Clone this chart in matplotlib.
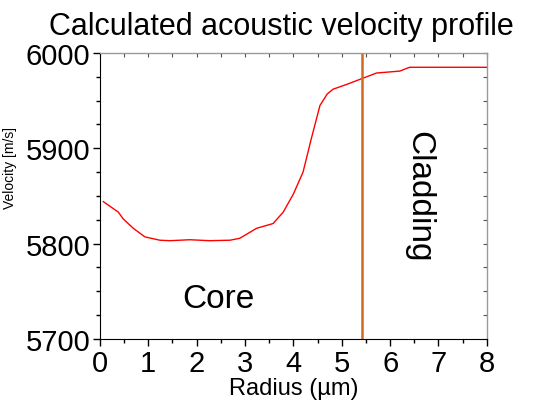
import matplotlib
matplotlib.use("Agg")
import matplotlib.pyplot as plt
from matplotlib.ticker import MultipleLocator

plt.rcParams['font.family'] = ['Liberation Sans', 'DejaVu Sans']

# radius in um, velocity in m/s
radius = [0.07, 0.38, 0.48, 0.69, 0.93, 1.24, 1.45, 1.86, 2.27, 2.69, 2.89,
          3.24, 3.58, 3.79, 4.00, 4.20, 4.37, 4.55, 4.70, 4.82, 5.10, 5.41,
          5.72, 6.20, 6.40, 8.0]
velocity = [5844, 5833, 5826, 5816, 5807, 5803.5, 5803, 5804, 5803, 5803.5, 5805.5,
            5816, 5821, 5833, 5852, 5875, 5910, 5945, 5957, 5962, 5967, 5973,
            5979, 5981, 5985, 5985]
boundary = 5.41

fig = plt.figure(figsize=(5.52, 4.06), dpi=100)
ax = fig.add_axes([0.181, 0.163, 0.701, 0.704])

ax.plot(radius, velocity, color='red', lw=1)
ax.axvline(boundary, color='#d2691e', lw=1.8)

ax.set_xlim(0, 8)
ax.set_ylim(5700, 6000)
ax.xaxis.set_major_locator(MultipleLocator(1))
ax.xaxis.set_minor_locator(MultipleLocator(0.5))
ax.yaxis.set_major_locator(MultipleLocator(100))
ax.yaxis.set_minor_locator(MultipleLocator(25))
ax.tick_params(which='both', direction='out', labelsize=21, width=1,
               top=False, right=False)
ax.tick_params(which='major', length=5, pad=2)
ax.tick_params(which='minor', length=3)

# inward ticks on top and right, no labels
axt = ax.secondary_xaxis('top')
axt.xaxis.set_major_locator(MultipleLocator(0.5))
axt.tick_params(direction='in', length=3, labeltop=False, colors='#555555')
axr = ax.secondary_yaxis('right')
axr.yaxis.set_major_locator(MultipleLocator(25))
axr.tick_params(direction='in', length=3, labelright=False, colors='#555555')
for s in ['top', 'right']:
    ax.spines[s].set_color('#999999')

ax.set_title("Calculated acoustic velocity profile", fontsize=22, pad=14, x=0.47)
ax.set_xlabel("Radius (µm)", fontsize=17, labelpad=0)
ax.set_ylabel("Velocity [m/s]", fontsize=10)
ax.yaxis.set_label_coords(-0.215, 0.6)

ax.text(2.45, 5742, "Core", fontsize=24, ha='center', va='center')
ax.text(6.6, 5850, "Cladding", fontsize=24, ha='center', va='center', rotation=-90)

fig.savefig("out.png", dpi=100)
